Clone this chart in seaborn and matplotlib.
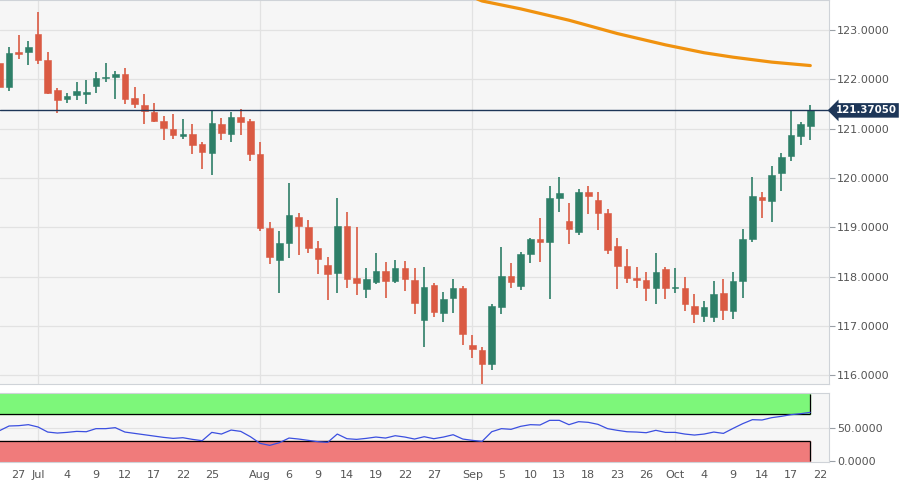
import numpy as np
import pandas as pd
import matplotlib.pyplot as plt
import seaborn as sns

# Daily candles, 25 Jun - 21 Oct 2019 (weekdays)
dates = pd.bdate_range("2019-06-25", "2019-10-21")
opens = [122.33, 121.84, 122.56, 122.56, 122.93, 122.39, 121.78, 121.61, 121.68, 121.71,
         121.87, 122.02, 122.05, 122.11, 121.63, 121.49, 121.33, 121.16, 120.99, 120.86,
         120.89, 120.69, 120.50, 121.09, 120.90, 121.23, 121.16, 120.48, 118.98, 118.33,
         118.69, 119.21, 119.01, 118.57, 118.23, 118.08, 119.03, 117.98, 117.75, 117.89,
         118.12, 117.91, 118.17, 117.93, 117.12, 117.82, 117.27, 117.56, 117.77, 116.61,
         116.51, 116.23, 117.39, 118.01, 117.81, 118.46, 118.76, 118.71, 119.60, 119.13,
         118.91, 119.71, 119.55, 119.29, 118.62, 118.21, 117.98, 117.93, 117.77, 118.15,
         117.77, 117.76, 117.41, 117.19, 117.17, 117.66, 117.31, 117.91, 118.77, 119.61,
         119.53, 120.11, 120.44, 120.86, 121.05]
highs = [122.45, 122.65, 122.90, 122.78, 123.36, 122.55, 121.83, 121.73, 121.94, 121.99,
         122.14, 122.34, 122.17, 122.24, 121.85, 121.70, 121.53, 121.26, 121.29, 121.19,
         121.09, 120.73, 121.36, 121.21, 121.33, 121.39, 121.19, 120.72, 119.11, 118.93,
         119.89, 119.28, 119.15, 118.73, 118.40, 119.59, 119.30, 119.00, 118.17, 118.47,
         118.29, 118.33, 118.31, 118.17, 118.20, 117.86, 117.68, 117.95, 117.81, 116.81,
         116.58, 117.44, 118.60, 118.27, 118.50, 118.79, 119.18, 119.84, 120.01, 119.50,
         119.77, 119.84, 119.72, 119.38, 118.79, 118.55, 118.20, 118.09, 118.47, 118.19,
         118.17, 118.00, 117.64, 117.50, 117.91, 117.96, 118.09, 118.96, 120.01, 119.71,
         120.24, 120.51, 121.36, 121.13, 121.48]
lows = [121.64, 121.77, 122.41, 122.29, 122.32, 121.70, 121.31, 121.53, 121.59, 121.51,
        121.72, 121.94, 121.61, 121.51, 121.41, 121.09, 121.14, 120.78, 120.80, 120.80,
        120.48, 120.19, 120.06, 120.77, 120.72, 120.88, 120.35, 118.92, 118.25, 117.66,
        118.37, 118.44, 118.47, 118.06, 117.52, 117.66, 117.76, 117.62, 117.56, 117.85,
        117.56, 117.87, 117.71, 117.25, 116.58, 117.18, 117.08, 117.27, 116.61, 116.34,
        115.82, 116.10, 117.25, 117.77, 117.73, 118.27, 118.30, 117.54, 119.31, 118.67,
        118.84, 119.27, 118.94, 118.45, 117.74, 117.87, 117.77, 117.50, 117.44, 117.54,
        117.66, 117.31, 117.05, 117.07, 117.07, 117.12, 117.14, 117.56, 118.71, 119.18,
        119.11, 119.74, 120.34, 120.67, 120.78]
closes = [121.84, 122.53, 122.52, 122.66, 122.39, 121.72, 121.59, 121.66, 121.76, 121.73,
          122.02, 122.05, 122.11, 121.61, 121.50, 121.36, 121.16, 121.01, 120.88, 120.90,
          120.67, 120.53, 121.11, 120.92, 121.23, 121.14, 120.48, 118.99, 118.39, 118.69,
          119.25, 119.02, 118.58, 118.35, 118.06, 119.03, 117.96, 117.86, 117.96, 118.12,
          117.91, 118.17, 117.95, 117.47, 117.79, 117.29, 117.55, 117.76, 116.83, 116.52,
          116.23, 117.41, 118.01, 117.88, 118.46, 118.77, 118.71, 119.60, 119.69, 118.96,
          119.71, 119.63, 119.28, 118.54, 118.21, 117.98, 117.93, 117.77, 118.09, 117.77,
          117.79, 117.44, 117.24, 117.38, 117.64, 117.33, 117.91, 118.77, 119.63, 119.56,
          120.06, 120.42, 120.87, 121.09, 121.37]
rsi = [45.5, 52.6, 53.1, 54.6, 51.1, 43.5, 42.0, 43.0, 44.5, 44.0,
       48.6, 48.6, 50.1, 43.5, 41.5, 39.5, 37.5, 35.5, 34.0, 35.0,
       32.5, 30.5, 43.0, 40.5, 46.5, 44.5, 36.5, 26.5, 23.5, 27.5,
       34.5, 33.0, 31.0, 29.0, 28.0, 40.5, 33.5, 32.5, 34.0, 36.0,
       34.5, 38.0, 36.0, 33.0, 36.5, 33.5, 36.0, 39.5, 33.0, 31.0,
       29.5, 44.0, 48.6, 47.6, 52.1, 54.6, 54.1, 61.1, 61.1, 54.6,
       59.1, 58.1, 55.1, 48.6, 46.1, 44.0, 43.5, 42.5, 46.1, 43.0,
       43.0, 40.5, 39.0, 40.5, 43.5, 41.5, 49.0, 56.1, 62.1, 61.6,
       65.1, 67.1, 69.6, 71.1, 73.1]

# Moving average readings (first one sits just above the visible range)
ma_dates = ["2019-09-02", "2019-09-03", "2019-09-09", "2019-09-16", "2019-09-23",
            "2019-09-30", "2019-10-04", "2019-10-09", "2019-10-15", "2019-10-21"]
ma_values = [123.67, 123.59, 123.43, 123.20, 122.93, 122.70, 122.54, 122.45, 122.35, 122.28]

last_price = 121.37050

tick_dates = ["2019-06-27", "2019-07-01", "2019-07-04", "2019-07-09", "2019-07-12",
              "2019-07-17", "2019-07-22", "2019-07-25", "2019-08-01", "2019-08-06",
              "2019-08-09", "2019-08-14", "2019-08-19", "2019-08-22", "2019-08-27",
              "2019-09-02", "2019-09-05", "2019-09-10", "2019-09-13", "2019-09-18",
              "2019-09-23", "2019-09-26", "2019-10-01", "2019-10-04", "2019-10-09",
              "2019-10-14", "2019-10-17", "2019-10-22"]
tick_labels = ["27", "Jul", "4", "9", "12", "17", "22", "25", "Aug", "6", "9", "14", "19",
               "22", "27", "Sep", "5", "10", "13", "18", "23", "26", "Oct", "4", "9", "14",
               "17", "22"]
month_starts = ["2019-07-01", "2019-08-01", "2019-09-02", "2019-10-01"]

start = dates[0].strftime("%Y-%m-%d")
def pos(d):
    return np.busday_count(start, d)

df = pd.DataFrame({"date": dates, "open": opens, "high": highs, "low": lows,
                   "close": closes, "rsi": rsi})
df["x"] = np.arange(len(df))
ma = pd.DataFrame({"x": [pos(d) for d in ma_dates], "ma": ma_values})

sns.set_style("white")
plt.rcParams["font.family"] = ["DejaVu Sans"]

GREEN = "#2e7f68"
RED = "#da5a43"
GRID = "#e2e2e2"
NAVY = "#1d3658"
BG = "#f6f6f6"

fig = plt.figure(figsize=(9.01, 4.8), dpi=100)
ax = fig.add_axes([0, 0.2, 0.92, 0.8])
ax2 = fig.add_axes([0, 0.0375, 0.92, 0.1435])

xmin, xmax = 0.06, 85.93
for a in (ax, ax2):
    a.set_facecolor(BG)
    a.set_xlim(xmin, xmax)
    for m in month_starts:
        a.axvline(pos(m), color=GRID, lw=0.9, zorder=0)
    for s in ["left", "top", "bottom", "right"]:
        a.spines[s].set_color("#cfd3d8")
        a.spines[s].set_linewidth(0.8)
    a.spines["left"].set_visible(False)
    a.yaxis.tick_right()
    a.tick_params(axis="y", which="both", length=4, color="#9aa0a6", labelsize=8,
                  labelcolor="#555555", pad=2, left=False, labelleft=False)

# main price panel
ax.set_ylim(115.82, 123.61)
ax.set_yticks(range(116, 124))
ax.set_yticklabels([f"{v:.4f}" for v in range(116, 124)])
for v in range(116, 124):
    ax.axhline(v, color=GRID, lw=0.9, zorder=0)
ax.set_xticks([])

up = df["close"] >= df["open"]
cols = np.where(up, GREEN, RED)
ax.vlines(df["x"], df["low"], df["high"], colors=cols, lw=1.2, zorder=2)
body = np.maximum((df["close"] - df["open"]).abs(), 0.025)
ax.bar(df["x"], body, bottom=np.minimum(df["open"], df["close"]), width=0.68,
       color=cols, edgecolor=cols, linewidth=0.4, zorder=3)

sns.lineplot(data=ma, x="x", y="ma", ax=ax, color="#f0920f", lw=2.3, zorder=4)
ax.set_xlabel("")
ax.set_ylabel("")

ax.axhline(last_price, color=NAVY, lw=1.0, zorder=5)
ax.text(1.008, last_price, f"{last_price:.5f}", transform=ax.get_yaxis_transform(),
        ha="left", va="center", fontsize=7.4, fontweight="bold", color="white",
        bbox=dict(boxstyle="larrow,pad=0.22", fc=NAVY, ec="none"), zorder=6,
        clip_on=False)

# lower oscillator panel
end = df["x"].iloc[-1]
ax2.set_ylim(-1.5, 102)
ax2.fill_between([xmin - 1, end], 70, 100, color="#7df77a", zorder=1)
ax2.fill_between([xmin - 1, end], 0, 30, color="#f07b7b", zorder=1)
ax2.hlines([70, 30], xmin - 1, end, colors="black", lw=0.9, zorder=2)
ax2.vlines([end, end], [70, 0], [100, 30], colors="black", lw=0.9, zorder=2)
ax2.axhline(50, color=GRID, lw=0.8, zorder=0)
sns.lineplot(data=df, x="x", y="rsi", ax=ax2, color="#3b4fe0", lw=0.9, zorder=3)
ax2.set_xlabel("")
ax2.set_ylabel("")
ax2.set_yticks([0, 50])
ax2.set_yticklabels(["0.0000", "50.0000"])
ax2.set_xticks([pos(d) for d in tick_dates])
ax2.set_xticklabels(tick_labels)
ax2.tick_params(axis="x", length=4, color="#9aa0a6", labelsize=8, labelcolor="#555555",
                pad=2)

fig.savefig("out.png", dpi=100, facecolor="white")
